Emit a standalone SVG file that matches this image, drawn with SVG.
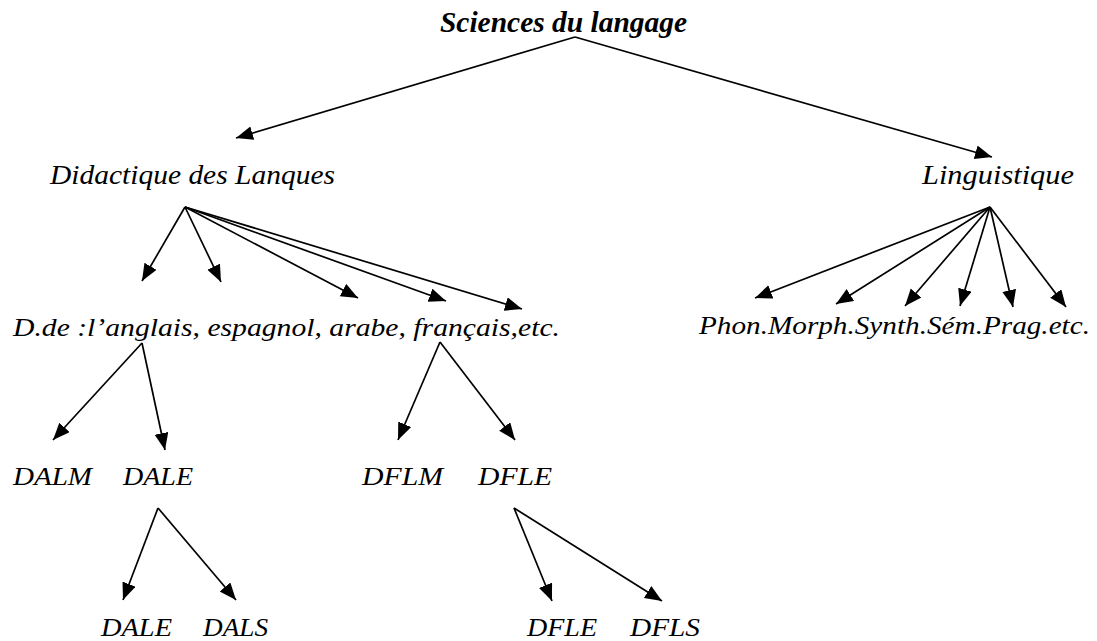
<svg xmlns="http://www.w3.org/2000/svg" width="1097" height="641" viewBox="0 0 1097 641">
<defs>
<marker id="ah" markerUnits="userSpaceOnUse" markerWidth="20" markerHeight="16" refX="17" refY="7" orient="auto">
<path d="M0,0 L17,7 L0,14 z" fill="#000"/>
</marker>
<style>
.lbl{font-style:italic;fill:#000}
.t{font-weight:bold}
.c line{stroke:#000;stroke-width:1.7;marker-end:url(#ah)}
</style>
</defs>
<rect width="1097" height="641" fill="#fff"/>
<g font-family="'Liberation Serif', 'Times New Roman', serif" class="lbl">
<g id="sciences"><text class="t" x="440" y="32" font-size="29" textLength="247" lengthAdjust="spacingAndGlyphs">Sciences du langage</text></g>
<g id="didactique"><text x="50" y="184" font-size="27" textLength="285" lengthAdjust="spacingAndGlyphs">Didactique des Lanques</text></g>
<g id="linguistique"><text x="922" y="184" font-size="27" textLength="152" lengthAdjust="spacingAndGlyphs">Linguistique</text></g>
<g id="langues"><text x="13" y="336" font-size="25" textLength="547" lengthAdjust="spacingAndGlyphs">D.de :l’anglais, espagnol, arabe, français,etc.</text></g>
<g id="branches"><text x="699" y="334" font-size="26" textLength="391" lengthAdjust="spacingAndGlyphs">Phon.Morph.Synth.Sém.Prag.etc.</text></g>
<g id="dalm"><text x="13" y="485" font-size="26" textLength="79" lengthAdjust="spacingAndGlyphs">DALM</text></g>
<g id="dale1"><text x="123" y="485" font-size="26" textLength="70" lengthAdjust="spacingAndGlyphs">DALE</text></g>
<g id="dflm"><text x="362" y="485" font-size="26" textLength="81" lengthAdjust="spacingAndGlyphs">DFLM</text></g>
<g id="dfle1"><text x="478" y="485" font-size="26" textLength="74" lengthAdjust="spacingAndGlyphs">DFLE</text></g>
<g id="dale2"><text x="101" y="636" font-size="25" textLength="71" lengthAdjust="spacingAndGlyphs">DALE</text></g>
<g id="dals"><text x="203" y="636" font-size="25" textLength="65" lengthAdjust="spacingAndGlyphs">DALS</text></g>
<g id="dfle2"><text x="527" y="636" font-size="25" textLength="70" lengthAdjust="spacingAndGlyphs">DFLE</text></g>
<g id="dfls"><text x="630" y="636" font-size="25" textLength="70" lengthAdjust="spacingAndGlyphs">DFLS</text></g>
</g>
<g id="connectors" class="c">
<line x1="575" y1="37" x2="236" y2="138"/>
<line x1="575" y1="37" x2="992" y2="157"/>
<line x1="185" y1="207" x2="142" y2="281"/>
<line x1="185" y1="207" x2="221" y2="282"/>
<line x1="185" y1="207" x2="358" y2="298"/>
<line x1="185" y1="207" x2="446" y2="301"/>
<line x1="185" y1="207" x2="522" y2="309"/>
<line x1="990" y1="207" x2="755" y2="298"/>
<line x1="990" y1="207" x2="836" y2="304"/>
<line x1="990" y1="207" x2="905" y2="306"/>
<line x1="990" y1="207" x2="960" y2="306"/>
<line x1="990" y1="207" x2="1013" y2="307"/>
<line x1="990" y1="207" x2="1066" y2="307"/>
<line x1="142" y1="343" x2="53" y2="440"/>
<line x1="142" y1="343" x2="165" y2="450"/>
<line x1="440" y1="342" x2="398" y2="440"/>
<line x1="440" y1="342" x2="515" y2="440"/>
<line x1="158" y1="508" x2="123" y2="600"/>
<line x1="158" y1="508" x2="236" y2="600"/>
<line x1="514" y1="508" x2="552" y2="601"/>
<line x1="514" y1="508" x2="662" y2="601"/>
</g>
</svg>
